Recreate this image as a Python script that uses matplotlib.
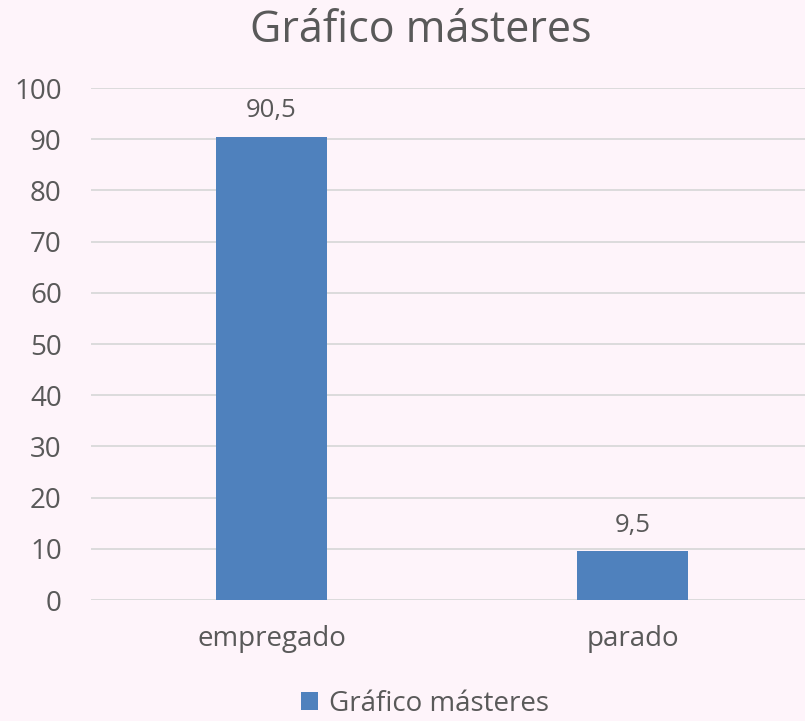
import numpy as np
import matplotlib.pyplot as plt

categorias = ['empregado', 'parado']
valores = [90.5, 9.5]
etiquetas = ['90,5', '9,5']
titulo = 'Gráfico másteres'

fondo = '#FEF4FA'
azul = '#4F81BD'
gris = '#595959'

plt.rcParams['font.family'] = ['Open Sans', 'DejaVu Sans']

fig = plt.figure(figsize=(8.05, 7.21), dpi=100, facecolor=fondo)
ax = fig.add_axes([0.113, 0.1678, 0.897, 0.710])
ax.set_facecolor(fondo)

x = np.arange(len(categorias))
barras = ax.bar(x, valores, width=0.31, color=azul, zorder=3, label=titulo)

for b, txt in zip(barras, etiquetas):
    ax.text(b.get_x() + b.get_width() / 2, b.get_height() + 2.6, txt,
            ha='center', va='bottom', fontsize=18.5, color=gris)

ax.set_xlim(-0.5, 1.5)
ax.set_ylim(0, 100)
ax.set_yticks(range(0, 101, 10))
ax.set_xticks(x)
ax.set_xticklabels(categorias)
ax.tick_params(axis='both', length=0, labelsize=20, colors=gris)
ax.tick_params(axis='y', pad=21)
ax.tick_params(axis='x', pad=18)
ax.grid(axis='y', color='#D9D9D9', linewidth=1.3, zorder=0)
for s in ax.spines.values():
    s.set_visible(False)

fig.text(0.523, 0.958, titulo, ha='center', va='center', fontsize=31, color=gris)
fig.legend(loc='center', bbox_to_anchor=(0.528, 0.024), frameon=False,
           fontsize=20, labelcolor=gris, handlelength=0.6, handleheight=0.6,
           handletextpad=0.4)

fig.savefig('out.png', dpi=100, facecolor=fondo)
